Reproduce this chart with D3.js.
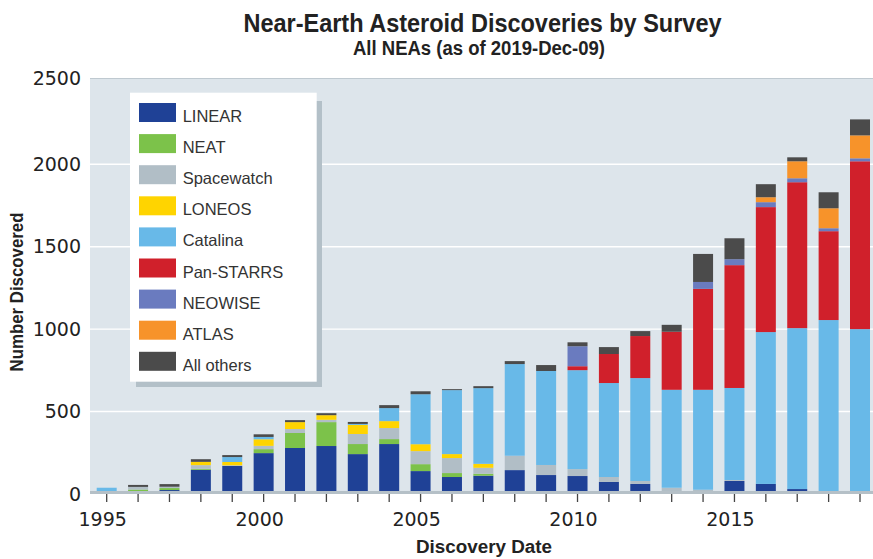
<!DOCTYPE html>
<html>
<head>
<meta charset="utf-8">
<script src="https://cdn.jsdelivr.net/npm/d3@7"></script>
<style>
  html, body { margin: 0; padding: 0; background: #ffffff; }
  svg { display: block; }
</style>
</head>
<body>
<svg id="chart" width="873" height="559"></svg>
<script>
// ---------------- DATA ----------------
const years = [1995,1996,1997,1998,1999,2000,2001,2002,2003,2004,2005,2006,2007,2008,2009,2010,2011,2012,2013,2014,2015,2016,2017,2018,2019];
const seriesNames = ["LINEAR","NEAT","Spacewatch","LONEOS","Catalina","Pan-STARRS","NEOWISE","ATLAS","All others"];
const LINEAR     = [0,0,24,147,170,248,279,291,242,303,139,103,111,145,115,109,73,61,0,0,79,61,30,0,0];
const NEAT       = [0,27,12,6,0,24,91,145,61,30,42,24,12,0,0,0,0,0,0,0,0,0,0,0,0];
const Spacewatch = [0,16,8,22,4,20,24,14,61,67,79,91,36,87,61,42,30,18,38,26,6,0,0,0,0];
const LONEOS     = [0,0,0,20,20,40,42,28,55,42,42,24,24,0,0,0,0,0,0,0,0,0,0,0,0];
const Catalina   = [38,0,0,0,30,14,0,0,6,79,303,388,459,556,570,600,570,624,594,606,558,921,976,1055,1000];
const PanSTARRS  = [0,0,0,0,0,0,0,0,0,0,0,0,0,0,0,24,176,255,352,612,745,758,885,539,1018];
const NEOWISE    = [0,0,0,0,0,0,0,0,0,0,0,0,0,0,0,121,0,0,0,42,36,30,24,18,18];
const ATLAS      = [0,0,0,0,0,0,0,0,0,0,0,0,0,0,0,0,0,0,0,0,0,30,103,121,139];
const AllOthers  = [0,12,16,16,12,16,12,12,12,18,18,6,12,18,36,24,42,30,42,170,127,79,24,97,97];
const yTicks = [0,500,1000,1500,2000,2500];
const xLabelYears = [1995,2000,2005,2010,2015];
const titleText = "Near-Earth Asteroid Discoveries by Survey";
const subtitleText = "All NEAs (as of 2019-Dec-09)";
const xAxisTitle = "Discovery Date";
const yAxisTitle = "Number Discovered";

const seriesValues = [LINEAR, NEAT, Spacewatch, LONEOS, Catalina, PanSTARRS, NEOWISE, ATLAS, AllOthers];
const colors = ["#1f4196","#7cc24a","#b1bec6","#ffd400","#68b9e8","#d0202b","#6a7bbf","#f7932a","#4b4b4b"];

// table for d3.stack
const table = years.map((yr, i) => {
  const row = { year: yr };
  seriesNames.forEach((s, k) => { row[s] = seriesValues[k][i]; });
  return row;
});

// ---------------- LAYOUT ----------------
const svg = d3.select("#chart");
const plotLeft = 90, plotRight = 873, plotTop = 78, plotBottom = 491;

const x = d3.scaleBand()
  .domain(years)
  .range([91.0, 875.7])
  .paddingInner(0.363)
  .paddingOuter(0.1815);

const y = d3.scaleLinear().domain([0, 2500]).range([494, 81.8]);

// plot background
svg.append("rect")
  .attr("x", plotLeft).attr("y", plotTop)
  .attr("width", plotRight - plotLeft).attr("height", plotBottom - plotTop)
  .attr("fill", "#dde5eb");
svg.append("line")
  .attr("x1", plotLeft).attr("x2", plotRight)
  .attr("y1", plotTop + 0.5).attr("y2", plotTop + 0.5)
  .attr("stroke", "#bfc9d0").attr("stroke-width", 1);

// gridlines
svg.append("g").selectAll("line")
  .data(yTicks.filter(d => d > 0 && d < 2500))
  .join("line")
  .attr("x1", plotLeft).attr("x2", plotRight)
  .attr("y1", d => y(d)).attr("y2", d => y(d))
  .attr("stroke", "#ffffff").attr("stroke-width", 1.4);

// stacked bars
const stack = d3.stack().keys(seriesNames);
const stacked = stack(table);
svg.append("g").selectAll("g")
  .data(stacked)
  .join("g")
  .attr("fill", (d, i) => colors[i])
  .selectAll("rect")
  .data(d => d)
  .join("rect")
  .attr("x", d => x(d.data.year))
  .attr("width", x.bandwidth())
  .attr("y", d => y(d[1]))
  .attr("height", d => Math.max(0, y(d[0]) - y(d[1])));

// axis base bar
svg.append("rect")
  .attr("x", plotLeft).attr("y", 491)
  .attr("width", plotRight - plotLeft).attr("height", 3)
  .attr("fill", "#b5c0c7");

// y axis
const yAxis = svg.append("g")
  .attr("transform", `translate(${plotLeft},0)`)
  .call(d3.axisLeft(y).tickValues(yTicks).tickSize(0).tickPadding(9).tickFormat(d3.format("d")));
yAxis.select(".domain").remove();
yAxis.selectAll("text")
  .attr("font-family", "DejaVu Sans, sans-serif")
  .attr("font-size", 19)
  .attr("fill", "#222");
// top label sits on the plot frame's top edge
yAxis.selectAll(".tick").filter(d => d === 2500).select("text").attr("y", plotTop - y(2500));

// x axis
const xAxis = svg.append("g")
  .attr("transform", "translate(0,494)")
  .call(d3.axisBottom(x).tickValues(years).tickSize(8).tickPadding(10.5)
    .tickFormat(d => xLabelYears.includes(d) ? String(d) : ""));
xAxis.select(".domain").remove();
xAxis.selectAll(".tick line").attr("stroke", "#444").attr("stroke-width", 1.3);
xAxis.selectAll("text")
  .attr("font-family", "DejaVu Sans, sans-serif")
  .attr("font-size", 19)
  .attr("fill", "#222")
  .attr("dx", -4);

// titles
svg.append("text")
  .attr("x", 482.5).attr("y", 31.5)
  .attr("text-anchor", "middle")
  .attr("font-family", "Liberation Sans, Arial, sans-serif")
  .attr("font-weight", "bold").attr("font-size", 25)
  .attr("fill", "#222")
  .attr("textLength", 478).attr("lengthAdjust", "spacingAndGlyphs")
  .text(titleText);
svg.append("text")
  .attr("x", 479).attr("y", 55)
  .attr("text-anchor", "middle")
  .attr("font-family", "Liberation Sans, Arial, sans-serif")
  .attr("font-weight", "bold").attr("font-size", 20)
  .attr("fill", "#222")
  .attr("textLength", 252).attr("lengthAdjust", "spacingAndGlyphs")
  .text(subtitleText);
svg.append("text")
  .attr("x", 484).attr("y", 553.3)
  .attr("text-anchor", "middle")
  .attr("font-family", "Liberation Sans, Arial, sans-serif")
  .attr("font-weight", "bold").attr("font-size", 18)
  .attr("fill", "#222")
  .attr("textLength", 136).attr("lengthAdjust", "spacingAndGlyphs")
  .text(xAxisTitle);
svg.append("text")
  .attr("transform", "translate(22.5,292) rotate(-90)")
  .attr("text-anchor", "middle")
  .attr("font-family", "Liberation Sans, Arial, sans-serif")
  .attr("font-weight", "bold").attr("font-size", 19)
  .attr("fill", "#222")
  .attr("textLength", 159).attr("lengthAdjust", "spacingAndGlyphs")
  .text(yAxisTitle);

// legend
const lg = svg.append("g");
lg.append("rect").attr("x", 136).attr("y", 101).attr("width", 186).attr("height", 286).attr("fill", "#b3c0c8");
lg.append("rect").attr("x", 130).attr("y", 92.7).attr("width", 186.7).attr("height", 289).attr("fill", "#ffffff");
const items = lg.selectAll("g.item")
  .data(seriesNames)
  .join("g")
  .attr("class", "item")
  .attr("transform", (d, i) => `translate(139,${103 + i * 31.1})`);
items.append("rect").attr("width", 37).attr("height", 19).attr("fill", (d, i) => colors[i]);
items.append("text")
  .attr("x", 43.7).attr("y", 19)
  .attr("font-family", "Liberation Sans, Arial, sans-serif")
  .attr("font-size", 16.5)
  .attr("fill", "#333")
  .text(d => d);
</script>
</body>
</html>
